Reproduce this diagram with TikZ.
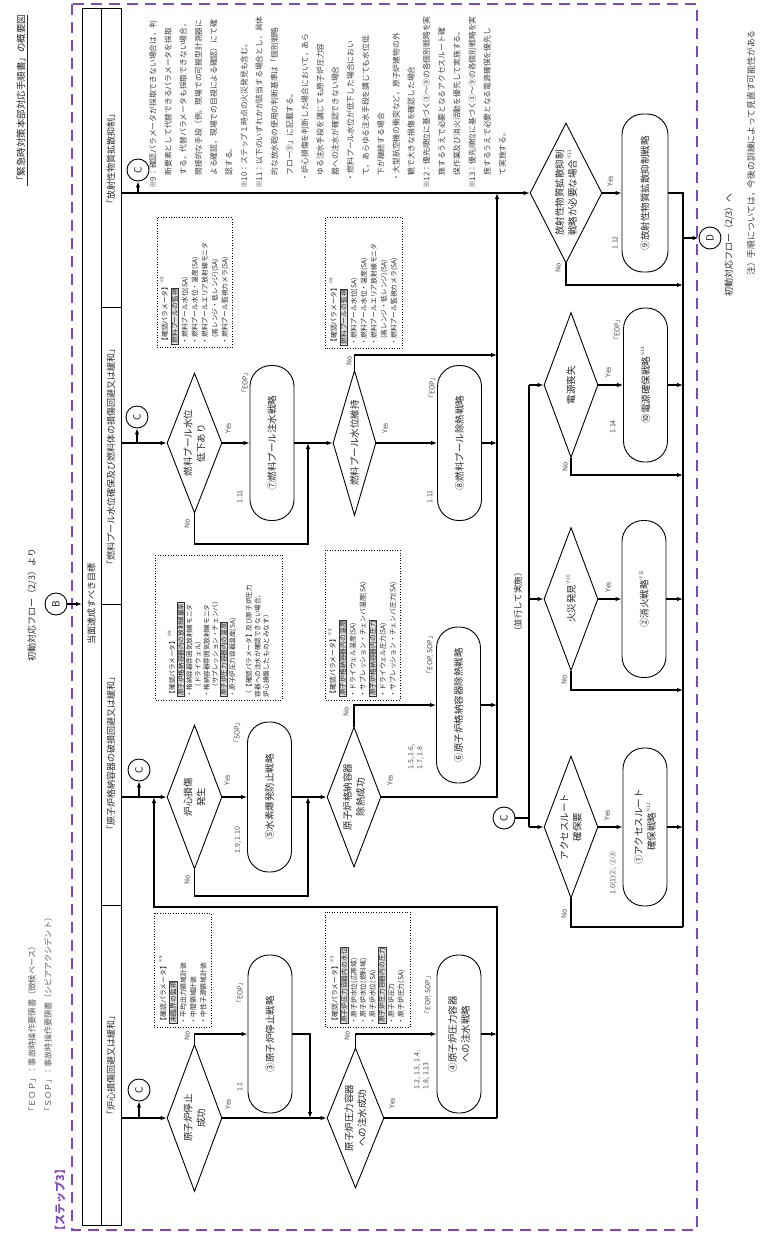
\documentclass[tikz,border=0pt]{standalone}
\usepackage{fontspec}
\setmainfont{Noto Sans CJK JP}
\usetikzlibrary{shapes.geometric,arrows.meta}

\definecolor{stepviolet}{RGB}{128,70,190}
\newcommand\sref[1]{\raisebox{0.55em}{\fontsize{4.5}{5}\selectfont ※#1}}
\newcommand\hbx[1]{{\setlength{\fboxsep}{0.5pt}\setlength{\fboxrule}{0.6pt}\fcolorbox{black!80}{black!12}{#1}}}

\tikzset{
  every node/.style={rotate=90, text=black!85, inner sep=1pt},
  flow/.style={line width=1.1pt, -{Latex[length=6pt,width=4.5pt]}},
  line/.style={line width=1.1pt},
  dec/.style={diamond, draw, line width=0.9pt, aspect=2.5, inner sep=0pt, align=center, font=\fontsize{9.5}{13}\selectfont},
  strat/.style={rectangle, draw, line width=0.9pt, rounded corners=21pt, minimum height=44pt, align=center, font=\fontsize{9.5}{13}\selectfont},
  conn/.style={circle, draw, line width=0.9pt, minimum size=22pt, inner sep=0pt, font=\fontsize{10}{10}\selectfont},
  lbl/.style={font=\fontsize{7}{9}\selectfont, text=black!70},
  parm/.style={draw, dotted, line width=0.6pt, align=left, inner sep=3pt, font=\fontsize{6.8}{10}\selectfont},
  hdr/.style={font=\fontsize{9}{11}\selectfont},
}

\begin{document}
\begin{tikzpicture}[x=1pt,y=-1pt]
\useasboundingbox (0,0) rectangle (779,1237);

% step frame
\draw[stepviolet, line width=2.4pt, dash pattern=on 11pt off 7pt] (72,4) rectangle (697,1230);
\node[text=stepviolet, font=\bfseries\fontsize{11}{12}\selectfont] (step) at (60,1200) {【ステップ3】};

% title and legend
\node[font=\fontsize{9.5}{11}\selectfont] (title) at (22,100) {\underline{「緊急時対策本部対応手順書」の概要図}};
\node[anchor=west, font=\fontsize{8.3}{9}\selectfont, text=black!65] (leg1) at (32,1117) {「ＥＯＰ」：事故時操作要領書（徴候ベース）};
\node[anchor=west, font=\fontsize{8.1}{9}\selectfont, text=black!65] (leg2) at (48,1117) {「ＳＯＰ」：事故時操作要領書（シビアアクシデント）};
\node[font=\fontsize{9}{10}\selectfont] (fromB) at (32,605) {初動対応フロー（2/3）より};
\node[conn] (B) at (56,604) {B};

% header
\draw[line width=1pt] (82,8) rectangle (121,1225);
\draw[line width=1pt] (101,8) -- (101,1225);
\draw[line width=1pt] (101,307) -- (121,307) (101,604) -- (121,604) (101,905) -- (121,905);
\node[hdr] (goal) at (91.5,604) {当面達成すべき目標};
\node[hdr] (g1) at (111,1065) {「炉心損傷回避又は緩和」};
\node[hdr] (g2) at (111,753) {「原子炉格納容器の破損回避又は緩和」};
\node[hdr] (g3) at (111,457) {「燃料プール水位確保及び燃料体の損傷回避又は緩和」};
\node[hdr] (g4) at (111,159) {「放射性物質拡散抑制」};
\coordinate (hB) at (82,604);
\draw[flow] (B.south) -- (hB);
\coordinate (h1) at (121,1118);
\coordinate (h2) at (121,797);
\coordinate (h3) at (121,443);
\coordinate (h4) at (121,193);

% core column
\node[dec, minimum width=147pt, minimum height=55pt] (stopok) at (194.5,1118) {原子炉停止\\成功};
\node[strat, minimum width=158pt] (scram) at (270,1034) {③原子炉停止戦略};
\node[dec, minimum width=140pt, minimum height=57pt] (injok) at (355.5,1118) {原子炉圧力容器\\への注水成功};
\node[strat, minimum width=158pt] (inj) at (459,1034) {④原子炉圧力容器\\への注水戦略};
\node[conn] (c1) at (139,1090) {C};
\draw[flow] (h1) -- (stopok.north);
\draw[flow] (c1.west |- h1) -- (c1.west);
\draw[flow] (stopok.south) -- (injok.north);
\draw[flow] (stopok.east) |- (scram.north);
\coordinate (j1) at (310,1118);
\draw[flow] (scram.south) -| (j1);
\draw[flow] (injok.east) |- (inj.north);
\coordinate (cb) at (497,1118);
\coordinate (lpa) at (497,907);
\coordinate (lpb) at (154,907);
\draw[line] (injok.south) -- (cb);
\draw[flow] (inj.south) -- (inj.south -| cb);
\draw[flow] (cb) -- (lpa) -- (lpb) -- (lpb |- h2);

% containment column
\node[dec, minimum width=144pt, minimum height=55pt] (cdmg) at (194.5,797) {炉心損傷\\発生};
\node[strat, minimum width=150pt] (hyd) at (269.5,797) {⑤水素爆発防止戦略};
\node[dec, minimum width=140pt, minimum height=54pt] (pcvok) at (354,797) {原子炉格納容器\\除熱成功};
\node[strat, minimum width=156pt] (pcvc) at (458.5,705) {⑥原子炉格納容器除熱戦略};
\node[conn] (c2) at (139,770) {C};
\coordinate (cm) at (497,797);
\coordinate (ct) at (497,193);
\draw[flow] (h2) -- (cdmg.north);
\draw[flow] (c2.west |- h2) -- (c2.west);
\draw[flow] (cdmg.south) -- (cdmg.south -| hyd.north);
\coordinate (n5) at (308,896);
\draw[flow] (cdmg.west) |- (n5) -- (n5 |- h2);
\draw[flow] (hyd.south) -- (hyd.south -| pcvok.north);
\draw[flow] (pcvok.east) |- (pcvc.north);
\draw[flow] (pcvok.south) -- (cm) -- (ct);
\draw[flow] (pcvc.south) -- (pcvc.south -| cm);

% pool column
\node[dec, minimum width=140pt, minimum height=55pt] (lvdrop) at (194.5,443) {燃料プール水位\\低下あり};
\node[strat, minimum width=155pt] (spinj) at (272,443) {⑦燃料プール注水戦略};
\node[dec, aspect=3.4, minimum width=145pt, minimum height=43pt] (lvkeep) at (354.5,443) {燃料プール水位維持};
\node[strat, minimum width=155pt] (spcool) at (459.5,443) {⑧燃料プール除熱戦略};
\node[conn] (c3) at (137,417) {C};
\draw[flow] (h3) -- (lvdrop.north);
\draw[flow] (c3.west |- h3) -- (c3.west);
\draw[flow] (lvdrop.south) -- (lvdrop.south -| spinj.north);
\coordinate (n7) at (308,544);
\draw[flow] (lvdrop.west) |- (n7) -- (n7 |- h3);
\draw[flow] (spinj.south) -- (lvkeep.north);
\coordinate (k8) at (497,355);
\draw[flow] (lvkeep.east) |- (k8);
\draw[flow] (lvkeep.south) -- (lvkeep.south -| spcool.north);
\draw[flow] (spcool.south) -- (spcool.south -| cm);

% release column
\node[dec, aspect=1.9, minimum width=140pt, minimum height=72pt] (needrad) at (566,193) {放射性物質拡散抑制\\戦略が必要な場合\sref{11}};
\node[strat, minimum width=158pt, minimum height=46pt] (radsup) at (645,193) {⑨放射性物質拡散抑制戦略};
\node[conn] (c4) at (138,170) {C};
\draw[flow] (h4) -- (needrad.north);
\draw[flow] (c4.west |- h4) -- (c4.west);
\draw[flow] (needrad.south) -- (needrad.south -| radsup.north);
\coordinate (rt) at (683,193);
\coordinate (rb) at (683,927);
\draw[line] (radsup.south) -- (rt) -- (rb);
\coordinate (k9) at (683,285);
\draw[flow] (needrad.west) |- (k9);
\node[conn] (D) at (710,238) {D};
\draw[flow] (D.north -| rt) -- (D.north);
\node[font=\fontsize{9}{10}\selectfont] (toD) at (729,245) {初動対応フロー（2/3）へ};

% parallel tasks
\node[dec, minimum width=145pt, minimum height=54pt] (pwr) at (571,385) {電源喪失};
\node[strat, minimum width=154pt] (pwrs) at (645.5,385) {⑩電源確保戦略\sref{13}};
\node[dec, minimum width=143pt, minimum height=54pt] (fire) at (571,599) {火災発見\sref{10}};
\node[strat, minimum width=157pt] (fires) at (644,599) {②消火戦略\sref{12}};
\node[dec, minimum width=142pt, minimum height=54pt] (acc) at (571,827) {アクセスルート\\確保要};
\node[strat, minimum width=158pt] (accs) at (645,827) {①アクセスルート\\確保戦略\sref{12}};
\node[conn] (c5) at (504,818) {C};
\coordinate (pt) at (529,385);
\coordinate (pb) at (529,827);
\draw[line] (pt) -- (pb);
\draw[line] (c5.south) -- (c5.south -| pt);
\draw[flow] (pt) -- (pwr.north);
\draw[flow] (pt |- fire.north) -- (fire.north);
\draw[flow] (pb) -- (acc.north);
\draw[flow] (pwr.south) -- (pwrs.north);
\draw[flow] (pwrs.south) -- (pwrs.south -| rt);
\coordinate (k10) at (683,475);
\draw[flow] (pwr.west) |- (k10);
\draw[flow] (fire.south) -- (fires.north);
\draw[flow] (fires.south) -- (fires.south -| rt);
\coordinate (k11) at (683,690);
\draw[flow] (fire.west) |- (k11);
\draw[flow] (acc.south) -- (accs.north);
\draw[flow] (accs.south) -- (accs.south -| rt);
\draw[line] (acc.west) |- (rb);
\node[font=\fontsize{8.5}{9}\selectfont] (par) at (518,602) {（並行して実施）};

% Yes / No
\node[lbl] (y1) at (228,1104) {Yes};
\node[lbl] (y2) at (392,1103) {Yes};
\node[lbl] (y3) at (227,780) {Yes};
\node[lbl] (y4) at (390,780) {Yes};
\node[lbl] (y5) at (228,428) {Yes};
\node[lbl] (y6) at (385,428) {Yes};
\node[lbl] (y7) at (610,181) {Yes};
\node[lbl] (y8) at (608,372) {Yes};
\node[lbl] (y9) at (608,587) {Yes};
\node[lbl] (y10) at (607,815) {Yes};
\node[lbl] (n1) at (187,1036) {No};
\node[lbl] (n2) at (347,1036) {No};
\node[lbl] (n3) at (187,880) {No};
\node[lbl] (n4) at (346,712) {No};
\node[lbl] (n6) at (187,524) {No};
\node[lbl] (n8) at (349,361) {No};
\node[lbl] (n9) at (558,268) {No};
\node[lbl] (n10) at (565,467) {No};
\node[lbl] (n11) at (564,680) {No};
\node[lbl] (n12) at (564,914) {No};

% procedure refs
\node[lbl] (e3) at (240,993) {「EOP」};
\node[lbl] (e4) at (428,995) {「EOP, SOP」};
\node[lbl] (e5) at (237,733) {「SOP」};
\node[lbl] (e6) at (430,655) {「EOP, SOP」};
\node[lbl] (e7) at (245,383) {「EOP」};
\node[lbl] (e8) at (432,388) {「EOP」};
\node[lbl] (e10) at (617,330) {「EOP」};
\node[lbl] (r3) at (240,1087) {1.1};
\node[lbl, align=left] (r4) at (422,1070) {1.2, 1.3, 1.4,\\1.8, 1.13};
\node[lbl] (r5) at (238,840) {1.9, 1.10};
\node[lbl, align=left] (r6) at (416,757) {1.5, 1.6,\\1.7, 1.8};
\node[lbl] (r7) at (240,497) {1.11};
\node[lbl] (r8) at (430,497) {1.11};
\node[lbl] (r9) at (615,243) {1.12};
\node[lbl] (r10) at (613,427) {1.14};
\node[lbl] (r12) at (613,873) {1.0(1)②, ②③};

% parameter boxes
\node[parm, text width=124pt, minimum height=75pt] (pp1) at (194.5,282.5) {【確認パラメータ】\sref{9}\\\hbx{燃料プールの監視}\\・燃料プール水位(SA)\\・燃料プール水位・温度(SA)\\・燃料プールエリア放射線モニタ\\\hspace*{1em}(高レンジ・低レンジ)(SA)\\・燃料プール監視カメラ(SA)};
\node[parm, text width=125pt, minimum height=77pt] (pp2) at (363.5,283) {【確認パラメータ】\sref{9}\\\hbx{燃料プールの監視}\\・燃料プール水位(SA)\\・燃料プール水位・温度(SA)\\・燃料プールエリア放射線モニタ\\\hspace*{1em}(高レンジ・低レンジ)(SA)\\・燃料プール監視カメラ(SA)};
\node[parm, text width=139pt, minimum height=127pt, font=\fontsize{6.6}{8.6}\selectfont] (pc1) at (218.5,627.5) {【確認パラメータ】\sref{9}\\\hbx{原子炉格納容器内の放射線量率}\\・格納容器雰囲気放射線モニタ\\\hspace*{1em}（ドライウェル）\\・格納容器雰囲気放射線モニタ\\\hspace*{1em}（サプレッション・チェンバ）\\\hbx{原子炉圧力容器内の温度}\\・原子炉圧力容器温度(SA)\\[8pt]（【確認パラメータ】及び原子炉圧力\\容器への注水が確認できない場合，\\炉心損傷したものとみなす）};
\node[parm, text width=144pt, minimum height=75pt] (pc2) at (362.5,625) {【確認パラメータ】\sref{9}\\\hbx{原子炉格納容器内の温度}\\・ドライウェル温度(SA)\\・サプレッション・チェンバ温度(SA)\\\hbx{原子炉格納容器内の圧力}\\・ドライウェル圧力(SA)\\・サプレッション・チェンバ圧力(SA)};
\node[parm, text width=108pt, minimum height=57pt] (pr1) at (182.5,970) {【確認パラメータ】\sref{9}\\\hbx{未臨界の監視}\\・平均出力領域計装\\・中間領域計装\\・中性子源領域計装};
\node[parm, text width=109pt, minimum height=85pt, font=\fontsize{6.8}{9.4}\selectfont] (pr2) at (367.5,969.5) {【確認パラメータ】\sref{9}\\\hbx{原子炉圧力容器内の水位}\\・原子炉水位(広帯域)\\・原子炉水位(燃料域)\\・原子炉水位(SA)\\\hbx{原子炉圧力容器内の圧力}\\・原子炉圧力\\・原子炉圧力(SA)};

% notes
\node[anchor=north west, align=left, text=black!75, font=\fontsize{7.8}{15.2}\selectfont] (notes) at (148,190) {※9：確認パラメータが採取できない場合は，判\\
\hspace*{1.7em}断要素として代替できるパラメータを採取\\
\hspace*{1.7em}する。代替パラメータも採取できない場合，\\
\hspace*{1.7em}間接的な手段（例，現場での可搬型計測器に\\
\hspace*{1.7em}よる確認，現場での目視による確認）にて確\\
\hspace*{1.7em}認する。\\
※10：ステップ１時点の火災発見も含む。\\
※11：以下のいずれかが該当する場合とし，具体\\
\hspace*{1.7em}的な放水砲の使用の判断基準は「個別戦略\\
\hspace*{1.7em}フロー⑨」に記載する。\\
\hspace*{1em}・炉心損傷を判断した場合において，あら\\
\hspace*{1.7em}ゆる注水手段を講じても原子炉圧力容\\
\hspace*{1.7em}器への注水が確認できない場合\\
\hspace*{1em}・燃料プール水位が低下した場合におい\\
\hspace*{1.7em}て，あらゆる注水手段を講じても水位低\\
\hspace*{1.7em}下が継続する場合\\
\hspace*{1em}・大型航空機の衝突など，原子炉建物の外\\
\hspace*{1.7em}観で大きな損傷を確認した場合\\
※12：優先順位に基づく③～⑨の各個別戦略を実\\
\hspace*{1.7em}施するうえで必要となるアクセスルート確\\
\hspace*{1.7em}保作業及び消火活動を優先して実施する。\\
※13：優先順位に基づく③～⑨の各個別戦略を実\\
\hspace*{1.7em}施するうえで必要となる電源確保を優先し\\
\hspace*{1.7em}て実施する。};

\node[font=\fontsize{8.8}{10}\selectfont, text=black!75] (foot) at (751,153) {注）手順については，今後の訓練によって見直す可能性がある};

\end{tikzpicture}
\end{document}
